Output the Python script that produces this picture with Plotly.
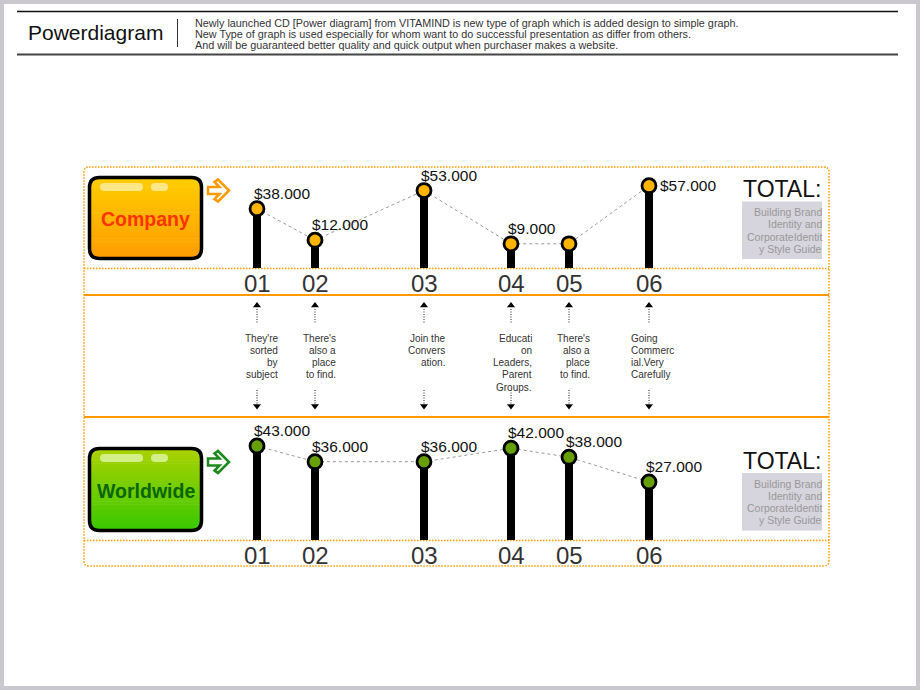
import math
import plotly.graph_objects as go

# ---------------- data ----------------
slot_labels = ["01", "02", "03", "04", "05", "06"]
company_values = [38000, 12000, 53000, 9000, 9000, 57000]
company_label_shown = [True, True, True, True, False, True]
worldwide_values = [43000, 36000, 36000, 42000, 38000, 27000]
worldwide_label_shown = [True, True, True, True, True, True]
notes = [
    ["They're", "sorted", "by", "subject"],
    ["There's", "also a", "place", "to find."],
    ["Join the", "Convers", "ation."],
    ["Educati", "on", "Leaders,", "Parent", "Groups."],
    ["There's", "also a", "place", "to find."],
    ["Going", "Commerc", "ial.Very", "Carefully"],
]
total_title = "TOTAL:"
total_lines = ["Building Brand", "Identity and", "CorporateIdentit", "y Style Guide"]
header_title = "Powerdiagram"
header_lines = [
    "Newly launched CD [Power diagram] from VITAMIND is new type of graph which is added design to simple graph.",
    "New Type of graph is used especially for whom want to do successful presentation as differ from others.",
    "And will be guaranteed better quality and quick output when purchaser makes a website.",
]
group_names = ["Company", "Worldwide"]

# ---------------- layout parameters ----------------
W, H = 920, 690
FONT = "Liberation Sans"
slot_x = [257, 315, 424, 511, 569, 649]
note_align = ["right", "right", "right", "right", "right", "left"]

# value axes: (baseline pixel, top pixel, axis floor, pixels per 1000)
c_base_px, c_top_px, c_floor, c_k = 268, 168, -11000, 1.21
w_base_px, w_top_px, w_floor, w_k = 540, 440, 1200, 2.25
c_top = c_floor + (c_base_px - c_top_px) / c_k * 1000
w_top = w_floor + (w_base_px - w_top_px) / w_k * 1000


def fmt(v):
    return "$" + f"{v:,}".replace(",", ".")


def rrect_path(x0, y0, x1, y1, r):
    return (f"M {x0+r},{y0} L {x1-r},{y0} Q {x1},{y0} {x1},{y0+r} "
            f"L {x1},{y1-r} Q {x1},{y1} {x1-r},{y1} L {x0+r},{y1} "
            f"Q {x0},{y1} {x0},{y1-r} L {x0},{y0+r} Q {x0},{y0} {x0+r},{y0} Z")


def inset(y, y0, y1, r):
    if y < y0 + r:
        dy = y0 + r - y
    elif y > y1 - r:
        dy = y - (y1 - r)
    else:
        return 0.0
    dy = min(dy, r)
    return r - math.sqrt(max(r * r - dy * dy, 0))


def band_path(x0, y0, x1, y1, r, ya, yb):
    n = 6
    ys = [ya + (yb - ya) * i / n for i in range(n + 1)]
    pts = [(x0 + inset(y, y0, y1, r), y) for y in ys]
    pts += [(x1 - inset(y, y0, y1, r), y) for y in reversed(ys)]
    return "M " + " L ".join(f"{px:.2f},{py:.2f}" for px, py in pts) + " Z"


def lerp(c0, c1, t):
    return "rgb(" + ",".join(str(int(round(a + (b - a) * t))) for a, b in zip(c0, c1)) + ")"


fig = go.Figure()
shapes = []
ann = []

# page border
shapes.append(dict(type="rect", xref="x", yref="y", x0=2, y0=2, x1=918, y1=688,
                   line=dict(color="#cbc7cf", width=4), layer="below"))
# header
shapes.append(dict(type="line", xref="x", yref="y", x0=17, x1=898, y0=11.5, y1=11.5,
                   line=dict(color="#111111", width=1.5), layer="below"))
shapes.append(dict(type="line", xref="x", yref="y", x0=17, x1=898, y0=54.5, y1=54.5,
                   line=dict(color="#444444", width=2), layer="below"))
shapes.append(dict(type="line", xref="x", yref="y", x0=177.5, x1=177.5, y0=19, y1=47,
                   line=dict(color="#333333", width=1), layer="below"))
ann.append(dict(x=26, y=32, xref="x", yref="y", text=header_title, showarrow=False,
                xanchor="left", yanchor="middle", font=dict(family=FONT, size=21, color="#111111")))
for i, t in enumerate(header_lines):
    ann.append(dict(x=193, y=23 + 11 * i, xref="x", yref="y", text=t, showarrow=False,
                    xanchor="left", yanchor="middle", font=dict(family=FONT, size=10.8, color="#333333")))

# main dotted frame and separators
ORANGE = "#ff9900"
shapes.append(dict(type="path", xref="x", yref="y", path=rrect_path(84, 167, 829, 566, 5),
                   line=dict(color=ORANGE, width=1.5, dash="1.5px,1.5px"), layer="below"))
for yy in (268.5, 540.5):
    shapes.append(dict(type="line", xref="x", yref="y", x0=84, x1=829, y0=yy, y1=yy,
                       line=dict(color=ORANGE, width=1.5, dash="1.5px,1.5px"), layer="below"))
for yy in (295, 417):
    shapes.append(dict(type="line", xref="x", yref="y", x0=84, x1=829, y0=yy, y1=yy,
                       line=dict(color=ORANGE, width=2), layer="below"))

# group buttons
buttons = [
    dict(y0=177.5, y1=258.5, top=(255, 206, 0), bot=(255, 156, 0), text_col="#ff3300",
         pill="rgba(255,238,170,0.8)", arrow_col="#ff9900", arrow_y=190.5),
    dict(y0=448.5, y1=530.5, top=(172, 210, 0), bot=(56, 200, 0), text_col="#0a660a",
         pill="rgba(225,245,170,0.8)", arrow_col="#1a8a1a", arrow_y=462),
]
bx0, bx1, br = 89.5, 201.5, 10
for name, b in zip(group_names, buttons):
    y0, y1 = b["y0"], b["y1"]
    nb = 28
    for i in range(nb):
        ya = y0 + (y1 - y0) * i / nb
        yb = y0 + (y1 - y0) * (i + 1) / nb + 0.6
        yb = min(yb, y1)
        shapes.append(dict(type="path", xref="x", yref="y", path=band_path(bx0, y0, bx1, y1, br, ya, yb),
                           fillcolor=lerp(b["top"], b["bot"], (i + 0.5) / nb), line=dict(width=0), layer="below"))
    shapes.append(dict(type="path", xref="x", yref="y", path=rrect_path(bx0, y0, bx1, y1, br),
                       line=dict(color="black", width=3.5), layer="below"))
    py0 = y0 + 5.5
    shapes.append(dict(type="path", xref="x", yref="y", path=rrect_path(100, py0, 143, py0 + 8, 4),
                       fillcolor=b["pill"], line=dict(width=0), layer="below"))
    shapes.append(dict(type="path", xref="x", yref="y", path=rrect_path(151, py0, 168, py0 + 8, 4),
                       fillcolor=b["pill"], line=dict(width=0), layer="below"))
    ann.append(dict(x=(bx0 + bx1) / 2, y=(y0 + y1) / 2 + 1, xref="x", yref="y", text=f"<b>{name}</b>",
                    showarrow=False, xanchor="center", yanchor="middle",
                    font=dict(family=FONT, size=19.5, color=b["text_col"])))
    ay = b["arrow_y"]
    pts = [(208, ay - 3.5), (219.5, ay - 3.5), (214.5, ay - 8.5), (218, ay - 11), (229, ay),
           (218, ay + 11), (214.5, ay + 8.5), (219.5, ay + 3.5), (208, ay + 3.5)]
    shapes.append(dict(type="path", xref="x", yref="y",
                       path="M " + " L ".join(f"{px},{py}" for px, py in pts) + " Z",
                       fillcolor="white", line=dict(color=b["arrow_col"], width=2.5), layer="below"))

# TOTAL blocks
for ty, box_y0 in ((188.5, 201.5), (460.5, 473)):
    ann.append(dict(x=741, y=ty, xref="x", yref="y", text=total_title, showarrow=False,
                    xanchor="left", yanchor="middle", font=dict(family=FONT, size=23, color="#111111")))
    shapes.append(dict(type="rect", xref="x", yref="y", x0=742, x1=822, y0=box_y0, y1=box_y0 + 57.5,
                       fillcolor="#d6d4dc", line=dict(width=0), layer="below"))
    for i, t in enumerate(total_lines):
        ann.append(dict(x=824, y=box_y0 + 10.5 + 12.3 * i, xref="x", yref="y", text=t, showarrow=False,
                        xanchor="right", yanchor="middle", font=dict(family=FONT, size=10.5, color="#999999")))

# slot tick labels
for lab, sx in zip(slot_labels, slot_x):
    for ty in (283, 555):
        ann.append(dict(x=sx, y=ty, xref="x", yref="y", text=lab, showarrow=False,
                        xanchor="center", yanchor="middle", font=dict(family=FONT, size=24, color="#333333")))

# middle notes with arrows
for sx, lines, al in zip(slot_x, notes, note_align):
    shapes.append(dict(type="line", xref="x", yref="y", x0=sx, x1=sx, y0=309, y1=324,
                       line=dict(color="#222222", width=1, dash="1px,1.5px"), layer="below"))
    shapes.append(dict(type="line", xref="x", yref="y", x0=sx, x1=sx, y0=390, y1=404,
                       line=dict(color="#222222", width=1, dash="1px,1.5px"), layer="below"))
    for i, t in enumerate(lines):
        if al == "right":
            xx, xa = sx + 23, "right"
        else:
            xx, xa = sx - 20, "left"
        ann.append(dict(x=xx, y=338 + 12.3 * i, xref="x", yref="y", text=t, showarrow=False,
                        xanchor=xa, yanchor="middle", font=dict(family=FONT, size=10, color="#333333")))

fig.add_trace(go.Scatter(x=slot_x, y=[305.5] * len(slot_x), xaxis="x", yaxis="y", mode="markers",
                         marker=dict(symbol="triangle-up", size=7, color="black"), hoverinfo="skip"))
fig.add_trace(go.Scatter(x=slot_x, y=[406] * len(slot_x), xaxis="x", yaxis="y", mode="markers",
                         marker=dict(symbol="triangle-down", size=7, color="black"), hoverinfo="skip"))

# lollipop panels
panels = [
    ("y2", company_values, company_label_shown, c_floor, "#ffb400"),
    ("y3", worldwide_values, worldwide_label_shown, w_floor, "#66a000"),
]
for yax, vals, shown, floor, col in panels:
    sxs, sys_ = [], []
    for sx, v in zip(slot_x, vals):
        sxs += [sx, sx, None]
        sys_ += [floor, v, None]
    fig.add_trace(go.Scatter(x=sxs, y=sys_, xaxis="x", yaxis=yax, mode="lines",
                             line=dict(color="black", width=8), hoverinfo="skip", cliponaxis=False))
    fig.add_trace(go.Scatter(x=slot_x, y=vals, xaxis="x", yaxis=yax, mode="lines+markers",
                             line=dict(color="#9a9a9a", width=1, dash="dot"),
                             marker=dict(size=14, color=col, line=dict(color="black", width=2.8)),
                             cliponaxis=False))
    for i, (sx, v, s) in enumerate(zip(slot_x, vals, shown)):
        if not s:
            continue
        if yax == "y2" and i == len(vals) - 1:
            xs, ys = 9, 0
        else:
            xs, ys = -5, 15.5
        ann.append(dict(x=sx, y=v, xref="x", yref=yax, text=fmt(v), showarrow=False,
                        xanchor="left", yanchor="middle", xshift=xs, yshift=ys,
                        font=dict(family=FONT, size=15.5, color="#111111")))

fig.update_layout(
    width=W, height=H, margin=dict(l=0, r=0, t=0, b=0, pad=0),
    paper_bgcolor="white", plot_bgcolor="rgba(0,0,0,0)", showlegend=False,
    xaxis=dict(range=[0, W], domain=[0, 1], visible=False, fixedrange=True),
    yaxis=dict(range=[H, 0], domain=[0, 1], visible=False, fixedrange=True),
    yaxis2=dict(range=[c_floor, c_top], domain=[1 - c_base_px / H, 1 - c_top_px / H],
                anchor="x", visible=False, fixedrange=True),
    yaxis3=dict(range=[w_floor, w_top], domain=[1 - w_base_px / H, 1 - w_top_px / H],
                anchor="x", visible=False, fixedrange=True),
    shapes=shapes, annotations=ann, hovermode=False,
)

fig.write_html("out.html", config={"displayModeBar": False},
               post_script="document.body.style.margin='0';document.body.style.overflow='hidden';")
